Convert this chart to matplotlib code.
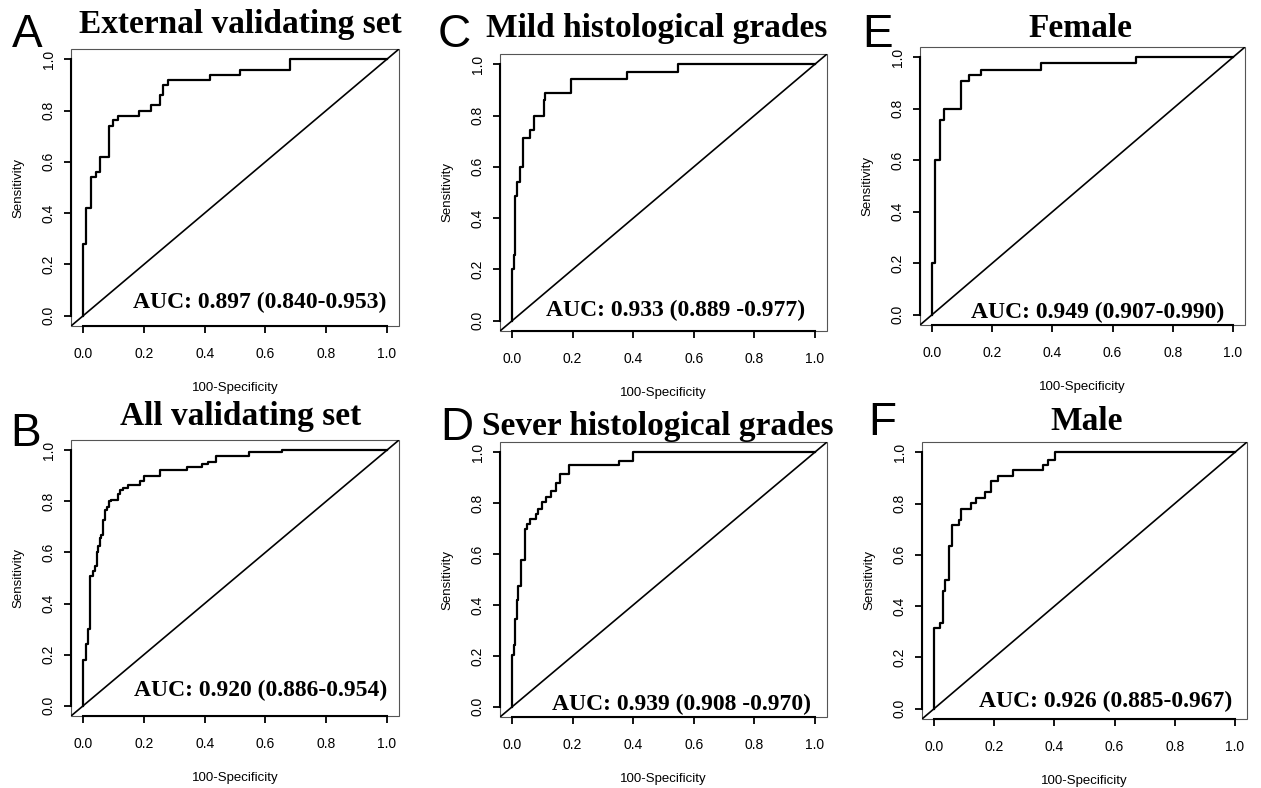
import matplotlib
matplotlib.use("Agg")
from matplotlib import pyplot as plt
from matplotlib.patches import Rectangle

W, H = 1261, 788

# ROC step corners (1 - specificity, sensitivity)
fpr_a = [0, 0, 0.011, 0.027, 0.042, 0.057, 0.086, 0.097, 0.115, 0.184, 0.222, 0.253, 0.264, 0.278, 0.418, 0.516, 0.68, 1.0]
tpr_a = [0, 0.279, 0.42, 0.54, 0.56, 0.62, 0.74, 0.764, 0.78, 0.80, 0.82, 0.86, 0.90, 0.92, 0.94, 0.96, 1.0, 1.0]

fpr_b = [0, 0, 0.009, 0.016, 0.024, 0.033, 0.038, 0.044, 0.049, 0.055, 0.06, 0.066, 0.071, 0.077, 0.086, 0.093,
         0.115, 0.121, 0.132, 0.148, 0.187, 0.2, 0.253, 0.341, 0.39, 0.412, 0.437, 0.547, 0.654, 1.0]
tpr_b = [0, 0.18, 0.243, 0.30, 0.506, 0.526, 0.546, 0.60, 0.624, 0.657, 0.67, 0.728, 0.768, 0.778, 0.80, 0.807,
         0.83, 0.843, 0.852, 0.862, 0.879, 0.90, 0.924, 0.933, 0.948, 0.954, 0.976, 0.992, 1.0, 1.0]

fpr_c = [0, 0, 0.005, 0.009, 0.016, 0.027, 0.035, 0.06, 0.071, 0.104, 0.11, 0.196, 0.379, 0.547, 1.0]
tpr_c = [0, 0.2, 0.256, 0.487, 0.54, 0.60, 0.713, 0.745, 0.80, 0.86, 0.888, 0.944, 0.97, 1.0, 1.0]

fpr_d = [0, 0, 0.007, 0.011, 0.015, 0.021, 0.029, 0.041, 0.048, 0.059, 0.078, 0.087, 0.1, 0.111, 0.128, 0.144,
         0.158, 0.188, 0.354, 0.398, 1.0]
tpr_d = [0, 0.205, 0.244, 0.345, 0.42, 0.473, 0.578, 0.698, 0.719, 0.737, 0.758, 0.776, 0.806, 0.823, 0.846, 0.878,
         0.914, 0.949, 0.966, 1.0, 1.0]

fpr_e = [0, 0, 0.011, 0.025, 0.039, 0.095, 0.122, 0.162, 0.363, 0.679, 1.0]
tpr_e = [0, 0.2, 0.60, 0.756, 0.80, 0.908, 0.93, 0.95, 0.976, 1.0, 1.0]

fpr_f = [0, 0, 0.02, 0.029, 0.037, 0.051, 0.059, 0.083, 0.09, 0.122, 0.14, 0.169, 0.189, 0.212, 0.261, 0.361,
         0.38, 0.402, 1.0]
tpr_f = [0, 0.314, 0.336, 0.46, 0.502, 0.634, 0.716, 0.735, 0.78, 0.802, 0.823, 0.844, 0.887, 0.908, 0.929, 0.949,
         0.971, 1.0, 1.0]

letters = ["A", "B", "C", "D", "E", "F"]
titles = ["External validating set", "All validating set", "Mild histological grades",
          "Sever histological grades", "Female", "Male"]
auc_labels = ["AUC: 0.897 (0.840-0.953)", "AUC: 0.920 (0.886-0.954)", "AUC: 0.933 (0.889 -0.977)",
              "AUC: 0.939 (0.908 -0.970)", "AUC: 0.949 (0.907-0.990)", "AUC: 0.926 (0.885-0.967)"]
curves = [(fpr_a, tpr_a), (fpr_b, tpr_b), (fpr_c, tpr_c), (fpr_d, tpr_d), (fpr_e, tpr_e), (fpr_f, tpr_f)]
ticks = [0.0, 0.2, 0.4, 0.6, 0.8, 1.0]

# layout in pixels: axes box (left, top, right, bottom), title (cx, baseline),
# letter (left, baseline), AUC text anchor in data coords (right x, y)
boxes = [(71, 49, 399, 326), (71, 440, 399, 716), (500, 54, 827, 331),
         (500, 442, 827, 717), (920, 47, 1245, 325), (922, 442, 1247, 719)]
title_pos = [(240, 33), (241, 425), (657, 37), (658, 435), (1080, 37), (1087, 430)]
letter_pos = [(12, 47), (10, 446), (438, 47), (440, 440), (862, 47), (868, 435)]
auc_pos = [(1.0, 0.05), (1.0, 0.06), (0.967, 0.04), (0.988, 0.01), (0.97, 0.01), (0.99, 0.03)]

serif = "Liberation Serif"
sans = "Liberation Sans"

fig = plt.figure(figsize=(W / 100, H / 100), dpi=100)
fig.patch.set_facecolor("white")

for i in range(6):
    l, t, r, b = boxes[i]
    ax = fig.add_axes([l / W, 1 - b / H, (r - l) / W, (b - t) / H])
    ax.set_xlim(-0.04, 1.04)
    ax.set_ylim(-0.04, 1.04)

    fpr, tpr = curves[i]
    ax.plot(fpr, tpr, drawstyle="steps-post", color="black", lw=1.6)
    ax.axline((0, 0), (1, 1), color="black", lw=1.2)

    # R style: thin box, thick axis lines only over the tick range
    for s in ["top", "right"]:
        ax.spines[s].set_visible(False)
    for s in ["left", "bottom"]:
        ax.spines[s].set_bounds(0, 1)
        ax.spines[s].set_linewidth(1.5)
    ax.add_patch(Rectangle((0, 0), 1, 1, transform=ax.transAxes, fill=False,
                           lw=0.8, edgecolor="#555555", clip_on=False))

    ax.set_xticks(ticks)
    ax.set_yticks(ticks)
    ax.set_xticklabels([f"{v:.1f}" for v in ticks], fontsize=10, family=sans)
    ax.set_yticklabels([f"{v:.1f}" for v in ticks], fontsize=10, family=sans,
                       rotation=90, va="center")
    ax.tick_params(direction="out", length=5, width=1.3)
    ax.tick_params(axis="x", pad=10)
    ax.tick_params(axis="y", pad=6)

    ax.set_xlabel("100-Specificity", fontsize=9.5, family=sans)
    ax.set_ylabel("Sensitivity", fontsize=9.5, family=sans)
    ax.xaxis.set_label_coords(0.5, -56 / (b - t))
    ax.yaxis.set_label_coords(-47 / (r - l), 0.5)

    ax.text(auc_pos[i][0], auc_pos[i][1], auc_labels[i], ha="right", va="center",
            fontsize=17, fontweight="bold", family=serif)

    cx, cy = title_pos[i]
    fig.text(cx / W, 1 - cy / H, titles[i], ha="center", va="baseline",
             fontsize=24, fontweight="bold", family=serif)
    lx, ly = letter_pos[i]
    fig.text(lx / W, 1 - ly / H, letters[i], ha="left", va="baseline",
             fontsize=33, family=sans)

fig.savefig("out.png", dpi=100)
